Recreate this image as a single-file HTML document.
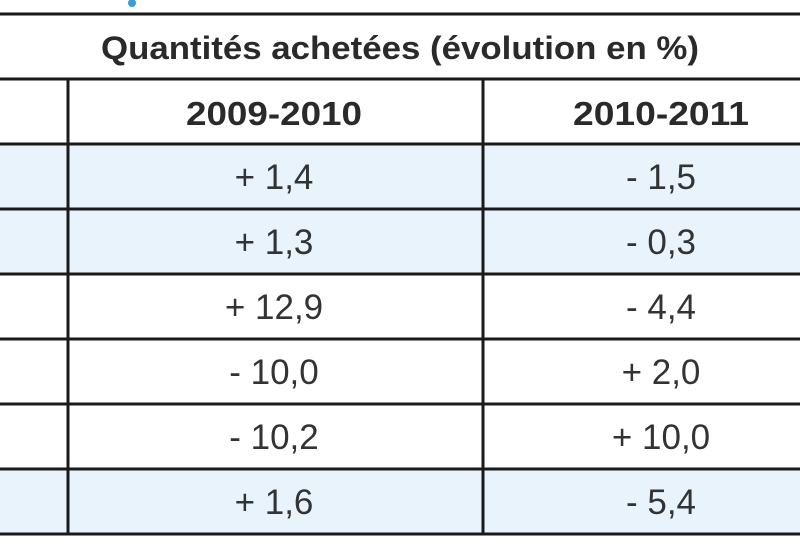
<!DOCTYPE html>
<html><head><meta charset="utf-8"><style>
html,body{margin:0;padding:0;background:#fff;}
svg{display:block;font-family:"Liberation Sans Narrow","Liberation Sans",sans-serif;}
</style></head><body>
<svg width="800" height="550" viewBox="0 0 800 550">
  <circle cx="132" cy="3" r="4" fill="#3a9bd5"/>
  <g id="rows"></g>
  <g id="lines" stroke="#1a1a1a" stroke-width="3"></g>
  <text x="400" y="59" text-anchor="middle" font-size="32" font-weight="bold" fill="#2a2a2a" textLength="598" lengthAdjust="spacingAndGlyphs">Quantités achetées (évolution en %)</text>
  <text x="274" y="125" text-anchor="middle" font-size="33" font-weight="bold" fill="#2a2a2a" textLength="176" lengthAdjust="spacingAndGlyphs">2009-2010</text>
  <text x="661" y="125" text-anchor="middle" font-size="33" font-weight="bold" fill="#2a2a2a" textLength="176" lengthAdjust="spacingAndGlyphs">2010-2011</text>
</svg>
<script>
const col2010 = ["+ 1,4","+ 1,3","+ 12,9","- 10,0","- 10,2","+ 1,6"];
const col2011 = ["- 1,5","- 0,3","- 4,4","+ 2,0","+ 10,0","- 5,4"];
const shaded = [true,true,false,false,false,true];
const NS="http://www.w3.org/2000/svg";
const rows=document.getElementById('rows'), lines=document.getElementById('lines');
const rowY=i=>144+i*65;
function mk(tag,attrs,parent){const e=document.createElementNS(NS,tag);for(const k in attrs)e.setAttribute(k,attrs[k]);parent.appendChild(e);return e;}
col2010.forEach((v,i)=>{
  if(shaded[i]){const r=mk('rect',{x:0,y:rowY(i),width:800,height:65,fill:'#e8f3fb'},rows);
    
    }
  const t1=mk('text',{x:274,y:rowY(i)+45,'text-anchor':'middle','font-size':35,fill:'#333'},rows);
  t1.textContent=v;
  
  
  const t2=mk('text',{x:661,y:rowY(i)+45,'text-anchor':'middle','font-size':35,fill:'#333'},rows);
  t2.textContent=col2011[i];
  
  
});
[14,79].concat(col2010.map((_,i)=>rowY(i))).concat([rowY(col2010.length)]).forEach(y=>{
  const l=mk('line',{x1:0,x2:800,y1:y,y2:y},lines);
  
  
});
[68,483].forEach(x=>{
  const l=mk('line',{x1:x,x2:x,y1:79,y2:rowY(col2010.length)},lines);
  
  
});
</script>
</body></html>
